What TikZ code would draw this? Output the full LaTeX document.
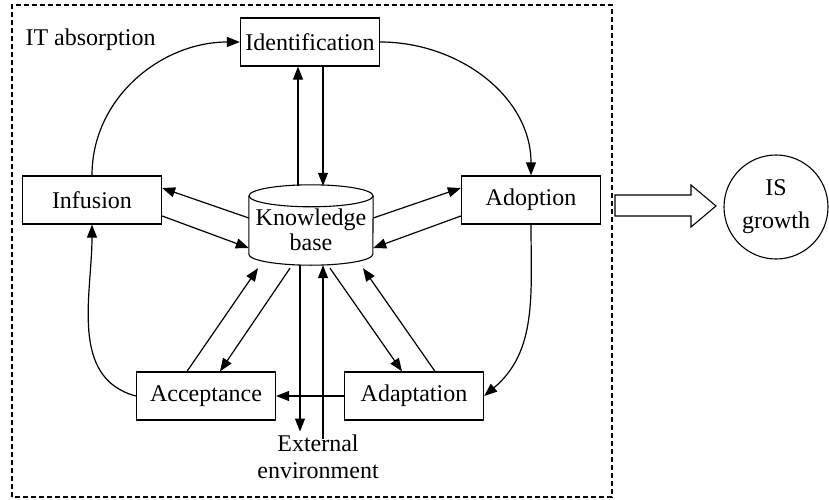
\documentclass[tikz,border=0pt]{standalone}
\usepackage{fontspec}
\setmainfont{Liberation Serif}
\usetikzlibrary{arrows.meta,calc}

\begin{document}
\begin{tikzpicture}[x=1pt,y=1pt,font=\fontsize{24}{27}\selectfont,
	stage/.style={draw,line width=1.3pt,minimum width=139pt,minimum height=48pt,inner sep=0pt},
	kbase/.style={minimum width=124pt,minimum height=80pt,align=center,inner sep=0pt,text height=51pt,text depth=0pt,font=\fontsize{24}{25}\selectfont},
	outline/.style={line width=1.1pt},
	flow/.style={line width=1.2pt,-{Triangle[length=13pt,width=10pt]}}]
	\useasboundingbox (0,0) rectangle (829,499);
	\draw[line width=1.2pt,dash pattern=on 5pt off 3pt] (12,2) rectangle (612,494);
	\node[anchor=west] (itabs) at (22,459) {IT absorption};
	\node[stage] (ident) at (310,457) {Identification};
	\node[stage] (infu) at (92,299) {Infusion};
	\node[stage] (adop) at (531,299) {Adoption};
	\node[stage] (accept) at (206,103) {Acceptance};
	\node[stage] (adapt) at (414,103) {Adaptation};
	\node[kbase] (kb) at (311,274) {Knowledge\\base};
	\draw[outline] ($(kb.north)+(0,-11)$) ellipse [x radius=62,y radius=11];
	\draw[outline] ($(kb.north west)+(0,-11)$) -- ($(kb.south west)+(0,11)$) arc[start angle=180,end angle=360,x radius=62,y radius=11] -- ($(kb.north east)+(0,-11)$);
	\node[align=center] (ext) at (318,42) {External\\environment};
	\node[draw,circle,line width=1.1pt,minimum size=104pt,inner sep=0pt,align=center] (isg) at (776,292) {IS\\[6pt]growth};
	\draw[outline] (615,304) -- (691,304) -- (691,314) -- (716,293) -- (691,272) -- (691,283) -- (615,283) -- cycle;
	\draw[flow] (infu.north) to[out=90,in=180] (ident.west);
	\draw[flow] (ident.east) to[out=0,in=90] (adop.north);
	\draw[flow] (adop.south) to[out=-90,in=40] (adapt.east);
	\draw[flow] (adapt.west) -- (accept.east);
	\draw[flow] (accept.west) to[out=165,in=-90] (infu.south);
	\draw[flow] (kb.north) ++(-13,-1) coordinate (k1) -- (k1 |- ident.south);
	\draw[flow] (ident.south) ++(13,0) coordinate (k2) -- ($(k2 |- kb.north)+(0,-1)$);
	\draw[flow] ($(kb.west)+(0,7)$) -- ($(infu.east)+(0,12)$);
	\draw[flow] ($(infu.east)+(0,-16)$) -- ($(kb.west)+(0,-23)$);
	\draw[flow] ($(kb.east)+(0,7)$) -- ($(adop.west)+(0,12)$);
	\draw[flow] ($(adop.west)+(0,-16)$) -- ($(kb.east)+(0,-23)$);
	\draw[flow] ($(accept.north)+(-19,0)$) -- ($(kb.south)+(-53,-3)$);
	\draw[flow] ($(kb.south)+(-21,-3)$) -- ($(accept.north)+(14,0)$);
	\draw[flow] (kb.south) ++(-11,0) coordinate (k3) -- (k3 |- ext.north);
	\draw[flow] ($(ext.north)+(5,-7)$) coordinate (k4) -- (k4 |- kb.south);
	\draw[flow] ($(kb.south)+(19,-3)$) -- ($(adapt.north)+(-12,0)$);
	\draw[flow] ($(adapt.north)+(21,0)$) -- ($(kb.south)+(52,-3)$);
\end{tikzpicture}
\end{document}
